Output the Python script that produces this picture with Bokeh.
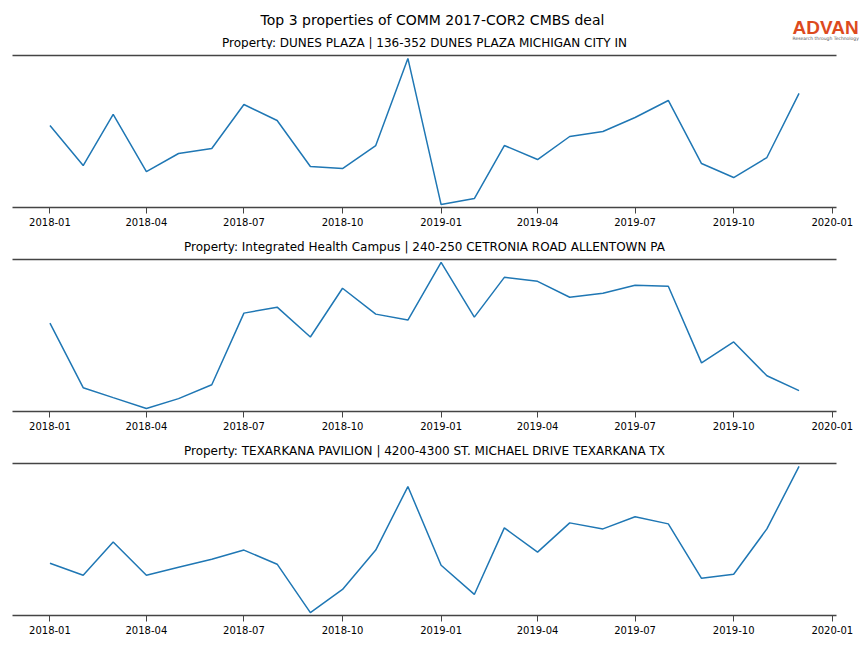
import pandas as pd
from bokeh.plotting import figure
from bokeh.layouts import column
from bokeh.models import (ColumnDataSource, LinearAxis, FixedTicker, Label,
                          DataRange1d, Range1d, DatetimeTickFormatter)
from bokeh.embed import file_html
from bokeh.resources import INLINE

# ---------------- data ----------------
main_title = "Top 3 properties of COMM 2017-COR2 CMBS deal"
logo_text = "ADVAN"
logo_tagline = "Research through Technology"
months = ["2018-01", "2018-02", "2018-03", "2018-04", "2018-05", "2018-06",
          "2018-07", "2018-08", "2018-09", "2018-10", "2018-11", "2018-12",
          "2019-01", "2019-02", "2019-03", "2019-04", "2019-05", "2019-06",
          "2019-07", "2019-08", "2019-09", "2019-10", "2019-11", "2019-12"]
tick_labels = ["2018-01", "2018-04", "2018-07", "2018-10", "2019-01",
               "2019-04", "2019-07", "2019-10", "2020-01"]

titles = [
    "Property: DUNES PLAZA | 136-352 DUNES PLAZA MICHIGAN CITY IN",
    "Property: Integrated Health Campus | 240-250 CETRONIA ROAD ALLENTOWN PA",
    "Property: TEXARKANA PAVILION | 4200-4300 ST. MICHAEL DRIVE TEXARKANA TX",
]
dunes_plaza = [85, 45, 96, 39, 57, 62, 106, 90, 44, 42, 65, 152,
               6, 12, 65, 51, 74, 79, 93, 110, 47, 33, 53, 117]
health_campus = [89, 24, 14, 3, 13, 27, 99, 105, 75, 124, 98, 92,
                 150, 95, 135, 131, 115, 119, 127, 126, 49, 70, 36, 21]
texarkana = [52, 40, 73, 40, 48, 56, 65, 51, 3, 26, 65, 128,
             50, 21, 87, 63, 92, 86, 98, 91, 37, 41, 86, 148]
series = [dunes_plaza, health_campus, texarkana]

FONT = "DejaVu Sans"
LINE = "#1f77b4"
SPINE = "#444444"
W = 864

dates = pd.to_datetime(months)
tick_ms = [d.value / 1e6 for d in pd.to_datetime(tick_labels)]


def bare(p):
    p.outline_line_color = None
    p.grid.visible = False
    p.background_fill_color = "white"
    p.border_fill_color = "white"


# ---------------- header (main title, logo, first subtitle) ----------------
HH = 49
header = figure(width=W, height=HH, x_range=Range1d(0, W), y_range=Range1d(0, HH),
                x_axis_location=None, y_axis_location=None,
                toolbar_location=None, output_backend="svg",
                min_border=0, min_border_left=0, min_border_right=0,
                min_border_top=0, min_border_bottom=0)
bare(header)
header.add_layout(Label(x=432, y=HH - 19, x_units="screen", y_units="screen",
                        text=main_title, text_font=FONT, text_font_size="14px",
                        text_color="black", text_align="center",
                        text_baseline="middle"))
header.add_layout(Label(x=792, y=HH - 27, x_units="screen", y_units="screen",
                        text=logo_text, text_font="Liberation Sans",
                        text_font_size="19px", text_font_style="bold",
                        text_color="#dd4a1e", text_baseline="middle"))
header.add_layout(Label(x=792, y=HH - 38, x_units="screen", y_units="screen",
                        text=logo_tagline, text_font=FONT,
                        text_font_size="4.5px", text_color="#555555",
                        text_baseline="middle"))
header.add_layout(Label(x=424, y=HH - 42, x_units="screen", y_units="screen",
                        text=titles[0], text_font=FONT, text_font_size="12px",
                        text_color="black", text_align="center",
                        text_baseline="middle"))


def make_panel(vals, subtitle, top_border):
    p = figure(frame_width=824, frame_height=152, x_axis_type="datetime",
               y_axis_location=None, toolbar_location=None, output_backend="svg",
               min_border_left=12, min_border_right=28, min_border_top=top_border,
               min_border_bottom=29,
               x_range=DataRange1d(range_padding=0.1),
               y_range=DataRange1d(range_padding=0.04))
    bare(p)

    src = ColumnDataSource(dict(date=dates, v=vals))
    p.line(x="date", y="v", source=src, line_color=LINE, line_width=1.5)

    xa = p.xaxis[0]
    xa.ticker = FixedTicker(ticks=tick_ms)
    fmt = "%Y-%m"
    xa.formatter = DatetimeTickFormatter(days=fmt, months=fmt, years=fmt)
    xa.axis_line_color = SPINE
    xa.axis_line_width = 1.6
    xa.major_tick_line_color = SPINE
    xa.major_tick_out = 6
    xa.major_tick_in = 0
    xa.minor_tick_out = 0
    xa.minor_tick_in = 0
    xa.major_label_text_font = FONT
    xa.major_label_text_font_size = "10px"
    xa.major_label_text_color = "black"
    xa.major_label_standoff = 4

    top = LinearAxis(ticker=FixedTicker(ticks=[]), axis_label=subtitle,
                     axis_label_text_font=FONT, axis_label_text_font_size="12px",
                     axis_label_text_font_style="normal",
                     axis_label_text_color="black", axis_label_standoff=6,
                     major_tick_out=0, major_tick_in=0, minor_tick_out=0,
                     minor_tick_in=0, major_label_text_font_size="0px",
                     major_label_standoff=0,
                     axis_line_color=SPINE, axis_line_width=1.6)
    p.add_layout(top, "above")
    return p


panels = [make_panel(series[0], None, 6),
          make_panel(series[1], titles[1], 23),
          make_panel(series[2], titles[2], 23)]

layout = column(header, column(*panels, spacing=0), spacing=0)
open("out.html", "w").write(file_html(layout, INLINE))
